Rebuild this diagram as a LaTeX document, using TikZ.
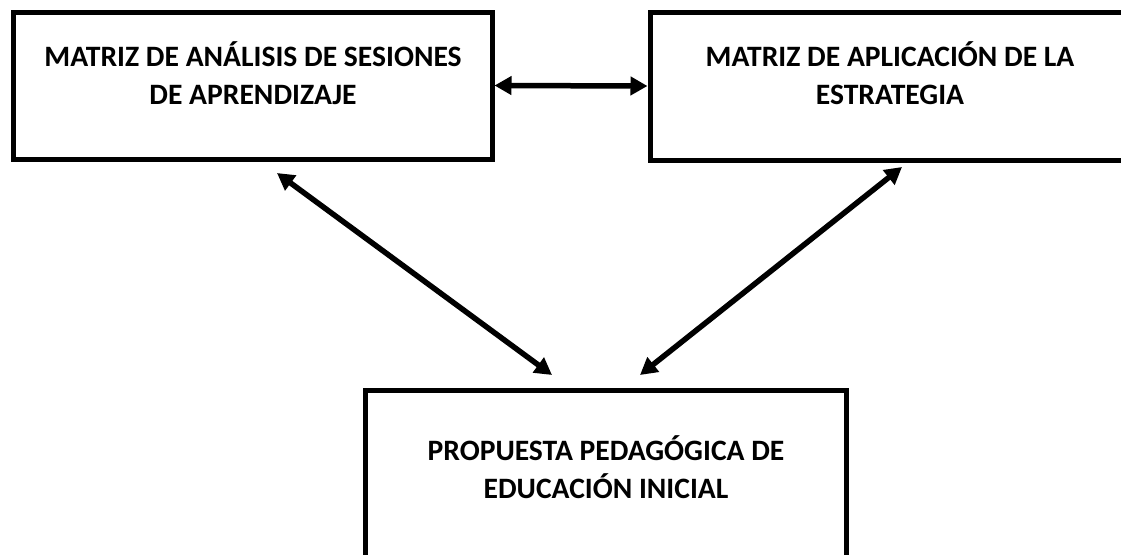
\documentclass[tikz,border=0pt]{standalone}
\usepackage{fontspec}
\setmainfont{Carlito}
\usetikzlibrary{arrows.meta}
\begin{document}
\begin{tikzpicture}[x=1pt,y=-1pt,
  box/.style={draw,line width=5pt,rectangle,inner sep=0pt},
  lbl/.style={font=\bfseries\fontsize{29.6}{38}\selectfont,align=center,inner sep=0pt},
  link/.style={line width=5.5pt,{Triangle[length=17pt,width=18pt]}-{Triangle[length=17pt,width=18pt]}}]
\useasboundingbox (0,0) rectangle (1121,554);
\node[box,minimum width=479pt,minimum height=147pt] (b1) at (252.5,85.5) {};
\node[box,minimum width=485pt,minimum height=148pt] (b2) at (892.5,86) {};
\node[box,minimum width=481pt,minimum height=210pt] (b3) at (605.5,495) {};
\node[lbl] (t1) at (253,73) {MATRIZ DE ANÁLISIS DE SESIONES\\DE APRENDIZAJE};
\node[lbl] (t2) at (890,73) {MATRIZ DE APLICACIÓN DE LA\\ESTRATEGIA};
\node[lbl] (t3) at (606,467) {PROPUESTA PEDAGÓGICA DE\\EDUCACIÓN INICIAL};
\coordinate (a1) at (277,173);
\coordinate (a2) at (552,375);
\coordinate (a3) at (902,167);
\coordinate (a4) at (640,375);
\draw[link] (b1.east) -- (b2.west);
\draw[link] (a1) -- (a2);
\draw[link] (a3) -- (a4);
\end{tikzpicture}
\end{document}
